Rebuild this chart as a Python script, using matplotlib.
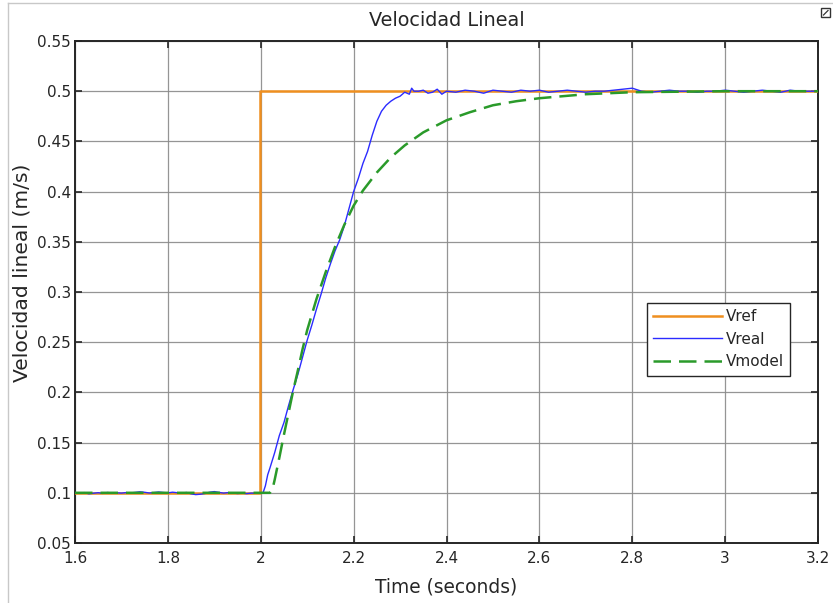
import matplotlib
matplotlib.use("Agg")
import matplotlib.pyplot as plt
from matplotlib.patches import Rectangle
from matplotlib.lines import Line2D

plt.rcParams['font.family'] = ['DejaVu Sans']

# ---------------- data ----------------
title = "Velocidad Lineal"
xlabel = "Time (seconds)"
ylabel = "Velocidad lineal (m/s)"
legend_labels = ["Vref", "Vreal", "Vmodel"]

xticks = [1.6, 1.8, 2.0, 2.2, 2.4, 2.6, 2.8, 3.0, 3.2]
xticklabels = ["1.6", "1.8", "2", "2.2", "2.4", "2.6", "2.8", "3", "3.2"]
yticks = [0.05, 0.1, 0.15, 0.2, 0.25, 0.3, 0.35, 0.4, 0.45, 0.5, 0.55]
yticklabels = ["0.05", "0.1", "0.15", "0.2", "0.25", "0.3", "0.35", "0.4", "0.45", "0.5", "0.55"]

vref_t = [1.6, 1.998, 1.998, 3.2]
vref_v = [0.1, 0.1, 0.5, 0.5]

vreal_t = [1.60, 1.61, 1.62, 1.63, 1.64, 1.65, 1.66, 1.67, 1.68, 1.69,
           1.70, 1.71, 1.72, 1.73, 1.74, 1.75, 1.76, 1.77, 1.78, 1.79,
           1.80, 1.81, 1.82, 1.83, 1.84, 1.85, 1.86, 1.87, 1.88, 1.89,
           1.90, 1.91, 1.92, 1.93, 1.94, 1.95, 1.96, 1.97, 1.98, 1.99,
           2.00, 2.005, 2.01, 2.015, 2.02, 2.03, 2.04, 2.05, 2.06, 2.07,
           2.08, 2.09, 2.10, 2.11, 2.12, 2.13, 2.14, 2.15, 2.16, 2.17,
           2.18, 2.19, 2.20, 2.21, 2.22, 2.23, 2.24, 2.25, 2.26, 2.27,
           2.28, 2.29, 2.30, 2.31, 2.32, 2.325, 2.33, 2.34, 2.35, 2.36,
           2.37, 2.38, 2.39, 2.40, 2.42, 2.44, 2.46, 2.48, 2.50, 2.52,
           2.54, 2.56, 2.58, 2.60, 2.62, 2.64, 2.66, 2.68, 2.70, 2.72,
           2.74, 2.76, 2.78, 2.80, 2.82, 2.84, 2.86, 2.88, 2.90, 2.92,
           2.94, 2.96, 2.98, 3.00, 3.02, 3.04, 3.06, 3.08, 3.10, 3.12,
           3.14, 3.16, 3.18, 3.20]
vreal_v = [0.1000, 0.0995, 0.1002, 0.0990, 0.0996, 0.1001, 0.0994, 0.1003, 0.0998, 0.1000,
           0.0997, 0.1002, 0.0999, 0.1004, 0.1010, 0.1005, 0.0998, 0.1002, 0.1008, 0.1003,
           0.0999, 0.1006, 0.1001, 0.0997, 0.1003, 0.0990, 0.0982, 0.0986, 0.0993, 0.1006,
           0.1012, 0.1004, 0.0997, 0.1002, 0.0998, 0.0993, 0.0996, 0.0992, 0.0997, 0.0995,
           0.0999, 0.1000, 0.107, 0.118, 0.125, 0.140, 0.157, 0.170, 0.187, 0.203,
           0.218, 0.235, 0.252, 0.267, 0.283, 0.298, 0.314, 0.328, 0.341, 0.352,
           0.366, 0.383, 0.400, 0.413, 0.428, 0.440, 0.456, 0.470, 0.480, 0.486,
           0.490, 0.493, 0.495, 0.499, 0.497, 0.503, 0.500, 0.500, 0.501, 0.498,
           0.499, 0.502, 0.497, 0.500, 0.499, 0.501, 0.500, 0.498, 0.501, 0.500,
           0.499, 0.501, 0.500, 0.501, 0.499, 0.500, 0.501, 0.500, 0.499, 0.500,
           0.500, 0.501, 0.502, 0.503, 0.500, 0.499, 0.500, 0.501, 0.500, 0.500,
           0.499, 0.500, 0.500, 0.501, 0.500, 0.499, 0.500, 0.501, 0.500, 0.499,
           0.501, 0.500, 0.500, 0.500]

vmodel_t = [1.60, 2.02, 2.025, 2.03, 2.04, 2.05, 2.06, 2.07, 2.08, 2.09,
            2.10, 2.12, 2.14, 2.16, 2.18, 2.20, 2.22, 2.25, 2.28, 2.31,
            2.35, 2.40, 2.45, 2.50, 2.55, 2.60, 2.65, 2.70, 2.75, 2.80,
            2.90, 3.00, 3.20]
vmodel_v = [0.100, 0.100, 0.103, 0.113, 0.135, 0.158, 0.180, 0.202, 0.222, 0.243,
            0.262, 0.293, 0.320, 0.345, 0.367, 0.386, 0.401, 0.419, 0.434, 0.446,
            0.459, 0.471, 0.479, 0.486, 0.490, 0.493, 0.495, 0.497, 0.498, 0.499,
            0.4995, 0.500, 0.500]

# ---------------- figure ----------------
W, H = 833, 603
fig = plt.figure(figsize=(W / 100, H / 100), dpi=100)
fig.patch.set_facecolor('white')

# light frame of the scope window (left and top edges)
fig.add_artist(Line2D([8 / W, 8 / W], [0, 1 - 3 / H], transform=fig.transFigure,
                      color='#c8c8c8', lw=1.0))
fig.add_artist(Line2D([8 / W, 1], [1 - 3 / H, 1 - 3 / H], transform=fig.transFigure,
                      color='#c8c8c8', lw=1.0))
# small undock icon at the top right
fig.add_artist(Rectangle((821 / W, 1 - 17 / H), 9 / W, 9 / H, transform=fig.transFigure,
                         fill=False, edgecolor='#333333', lw=1.0))
fig.add_artist(Line2D([823.5 / W, 828 / W], [1 - 15 / H, 1 - 10.5 / H], transform=fig.transFigure,
                      color='#333333', lw=0.9))

left, right, top, bottom = 75, 818, 41, 543
ax = fig.add_axes([left / W, 1 - bottom / H, (right - left) / W, (bottom - top) / H])

c_ref = '#ef8f1f'
c_real = '#2b2bff'
c_model = '#2a9a2a'

ax.plot(vref_t, vref_v, color=c_ref, lw=1.8, label=legend_labels[0], zorder=3)
ax.plot(vreal_t, vreal_v, color=c_real, lw=1.0, label=legend_labels[1], zorder=4)
ax.plot(vmodel_t, vmodel_v, color=c_model, lw=1.8, dashes=(7, 3.2),
        label=legend_labels[2], zorder=5)

ax.set_xlim(1.6, 3.2)
ax.set_ylim(0.05, 0.55)
ax.set_xticks(xticks)
ax.set_xticklabels(xticklabels)
ax.set_yticks(yticks)
ax.set_yticklabels(yticklabels)

ax.grid(True, color='#8a8a8a', lw=0.9, alpha=0.9)
ax.set_axisbelow(True)
ax.tick_params(direction='in', length=5, width=1.2, top=True, right=True,
               labelsize=11, colors='#262626')
ax.tick_params(axis='x', pad=6)
ax.tick_params(axis='y', pad=3)
for s in ax.spines.values():
    s.set_color('#262626')
    s.set_linewidth(1.4)

ax.set_title(title, fontsize=13.9, color='#262626', pad=10.5)
ax.set_xlabel(xlabel, fontsize=13.4, color='#262626', labelpad=8)
ax.set_ylabel(ylabel, fontsize=14.6, color='#262626')
ax.yaxis.set_label_coords(-0.058, 0.539)

leg = ax.legend(loc='upper left',
                bbox_to_anchor=((647 - left) / (right - left), (bottom - 303) / (bottom - top)),
                fontsize=11, frameon=True, fancybox=False, framealpha=1.0,
                edgecolor='#262626', handlelength=4.5, handletextpad=0.25,
                borderpad=0.4, labelspacing=0.5, borderaxespad=0)
leg.get_frame().set_linewidth(1.0)
for t in leg.get_texts():
    t.set_color('#262626')

fig.savefig('out.png', dpi=100)
